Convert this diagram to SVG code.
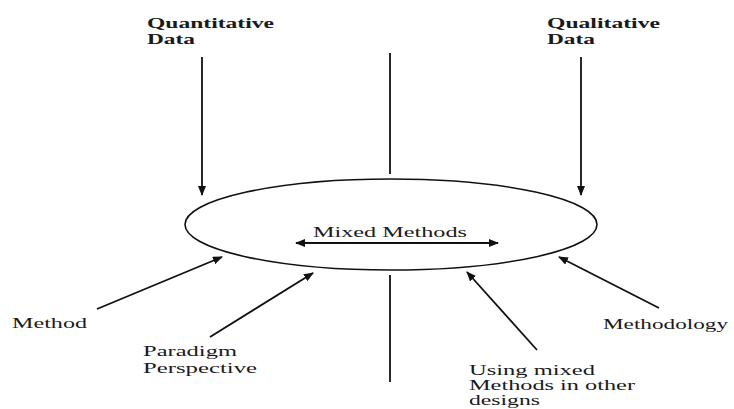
<svg xmlns="http://www.w3.org/2000/svg" width="734" height="409" viewBox="0 0 734 409">
<style>
text{font-family:"Liberation Serif","Times New Roman",serif;font-size:15px;fill:#1a1a1a}
.b{font-weight:bold}
.ln{stroke:#111;stroke-width:1.8;fill:none}
</style>
<defs>
<marker id="ah" markerUnits="userSpaceOnUse" markerWidth="10" markerHeight="8" refX="9" refY="4" orient="auto">
<path d="M0,0 L10,4 L0,8 Z" fill="#111"/>
</marker>
<marker id="as" markerUnits="userSpaceOnUse" markerWidth="10" markerHeight="8" refX="1" refY="4" orient="auto">
<path d="M10,0 L0,4 L10,8 Z" fill="#111"/>
</marker>
</defs>
<rect width="734" height="409" fill="#fff"/>
<g id="mixed-methods">
<ellipse cx="391" cy="224.5" rx="206" ry="45.5" fill="none" stroke="#111" stroke-width="1.6"/>
<text x="313" y="237" textLength="154" lengthAdjust="spacingAndGlyphs">Mixed Methods</text>
</g>
<g id="quantitative">
<text class="b" x="147" y="28" textLength="127" lengthAdjust="spacingAndGlyphs">Quantitative</text>
<text class="b" x="147" y="44" textLength="48" lengthAdjust="spacingAndGlyphs">Data</text>
</g>
<g id="qualitative">
<text class="b" x="547" y="28" textLength="113" lengthAdjust="spacingAndGlyphs">Qualitative</text>
<text class="b" x="547" y="44" textLength="48" lengthAdjust="spacingAndGlyphs">Data</text>
</g>
<g id="method">
<text x="12" y="328" textLength="75" lengthAdjust="spacingAndGlyphs">Method</text>
</g>
<g id="paradigm">
<text x="143" y="356" textLength="94" lengthAdjust="spacingAndGlyphs">Paradigm</text>
<text x="143" y="373" textLength="114" lengthAdjust="spacingAndGlyphs">Perspective</text>
</g>
<g id="using-mixed">
<text x="469" y="375" textLength="126" lengthAdjust="spacingAndGlyphs">Using mixed</text>
<text x="469" y="390" textLength="166" lengthAdjust="spacingAndGlyphs">Methods in other</text>
<text x="469" y="405" textLength="71" lengthAdjust="spacingAndGlyphs">designs</text>
</g>
<g id="methodology">
<text x="603" y="329" textLength="125" lengthAdjust="spacingAndGlyphs">Methodology</text>
</g>
<g id="connectors">
<line class="ln" x1="202" y1="57" x2="202" y2="195" marker-end="url(#ah)"/>
<line class="ln" x1="581" y1="57" x2="581" y2="195" marker-end="url(#ah)"/>
<line class="ln" x1="390" y1="53" x2="390" y2="174"/>
<line class="ln" x1="390" y1="275" x2="390" y2="382"/>
<line class="ln" x1="296" y1="243" x2="498" y2="243" marker-start="url(#as)" marker-end="url(#ah)"/>
<line class="ln" x1="97" y1="309" x2="222" y2="257" marker-end="url(#ah)"/>
<line class="ln" x1="210" y1="337" x2="313" y2="273" marker-end="url(#ah)"/>
<line class="ln" x1="537" y1="350" x2="467" y2="272" marker-end="url(#ah)"/>
<line class="ln" x1="659" y1="308" x2="559" y2="257" marker-end="url(#ah)"/>
</g>
</svg>
